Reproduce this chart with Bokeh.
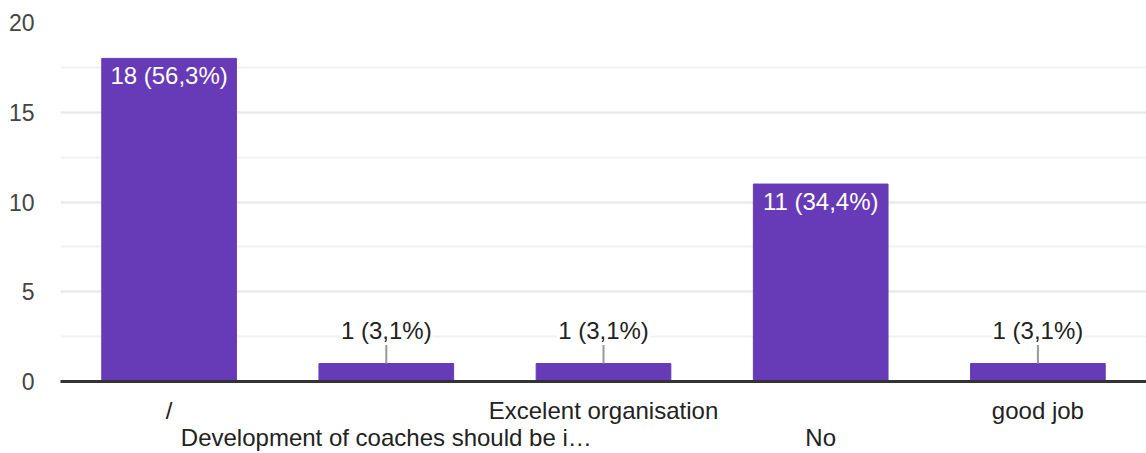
from bokeh.plotting import figure
from bokeh.models import (Range1d, LinearAxis, FixedTicker, SingleIntervalTicker,
                          ColumnDataSource)
from bokeh.core.properties import value
from bokeh.embed import file_html
from bokeh.resources import INLINE

# Survey answers and their counts
categories = ["/", "Development of coaches should be i\u2026", "Excelent organisation",
              "No", "good job"]
counts = [18, 1, 1, 11, 1]
percents = ["56,3%", "3,1%", "3,1%", "34,4%", "3,1%"]
y_ticks = [0, 5, 10, 15, 20]

FONT = value("Liberation Sans")
BAR_COLOR = "#673ab7"
INSIDE_MIN = 5          # counts at or above this get their label inside the bar
LEADER = 1.17           # leader line length, in data units

xs = [i + 0.5 for i in range(len(categories))]
labels = [f"{c} ({p})" for c, p in zip(counts, percents)]

p = figure(width=1146, height=453, output_backend="svg", toolbar_location=None,
           x_range=Range1d(0, len(categories)), y_range=Range1d(0, 20),
           min_border_top=22, min_border_left=60, min_border_right=0,
           min_border_bottom=0, x_axis_type=None)
p.outline_line_color = None
p.background_fill_color = "white"
p.border_fill_color = "white"

# gridlines: major every 5, minor halfway between
p.yaxis.ticker = SingleIntervalTicker(interval=5, num_minor_ticks=2)
p.ygrid.grid_line_color = "#e8e8e8"
p.ygrid.grid_line_width = 2
p.ygrid.minor_grid_line_color = "#f2f2f2"
p.ygrid.minor_grid_line_width = 2
p.xgrid.ticker = FixedTicker(ticks=[0])
p.xgrid.grid_line_color = "#e8e8e8"
p.xgrid.grid_line_width = 2

p.yaxis.axis_line_color = None
p.yaxis.major_tick_line_color = None
p.yaxis.minor_tick_line_color = None
p.yaxis.major_label_text_font = "Liberation Sans"
p.yaxis.major_label_text_font_size = "23px"
p.yaxis.major_label_text_color = "#444444"
p.yaxis.major_label_standoff = 20

src = ColumnDataSource(dict(x=xs, top=counts, label=labels))
p.vbar(x="x", top="top", width=0.62, source=src, fill_color=BAR_COLOR,
       line_color=BAR_COLOR)

# two rows of category labels, alternating
def cat_axis(idx, line):
    ax = LinearAxis(ticker=FixedTicker(ticks=[xs[i] for i in idx]),
                    major_label_overrides={xs[i]: categories[i] for i in idx})
    ax.major_tick_line_color = None
    ax.minor_tick_line_color = None
    ax.major_tick_out = 0
    ax.major_label_text_font = "Liberation Sans"
    ax.major_label_text_font_size = "24px"
    ax.major_label_text_color = "#222222"
    if line:
        ax.axis_line_color = "#333333"
        ax.axis_line_width = 3
    else:
        ax.axis_line_color = None
    return ax

ax1 = cat_axis([0, 2, 4], True)
ax1.major_label_standoff = 15
ax2 = cat_axis([1, 3], False)
ax2.major_label_standoff = -3
ax2.major_label_text_line_height = 1.0
p.add_layout(ax1, "below")
p.add_layout(ax2, "below")

# value labels: inside large bars, above small bars with a leader line
inside = [i for i, c in enumerate(counts) if c >= INSIDE_MIN]
outside = [i for i, c in enumerate(counts) if c < INSIDE_MIN]

src_in = ColumnDataSource(dict(x=[xs[i] for i in inside],
                               y=[counts[i] for i in inside],
                               t=[labels[i] for i in inside]))
p.text(x="x", y="y", text="t", source=src_in, text_font=FONT,
       text_font_size="24px", text_color="white", text_align="center",
       text_baseline="top", y_offset=4)

src_out = ColumnDataSource(dict(x=[xs[i] for i in outside],
                                y=[counts[i] for i in outside],
                                y1=[counts[i] + LEADER for i in outside],
                                t=[labels[i] for i in outside]))
p.segment(x0="x", y0="y", x1="x", y1="y1", source=src_out,
          line_color="#999999", line_width=2)
p.text(x="x", y="y1", text="t", source=src_out, text_font=FONT,
       text_font_size="24px", text_color="#222222", text_align="center",
       text_baseline="alphabetic", y_offset=-12,
       background_fill_color="white", padding=1)

open("out.html", "w").write(file_html(p, INLINE))
